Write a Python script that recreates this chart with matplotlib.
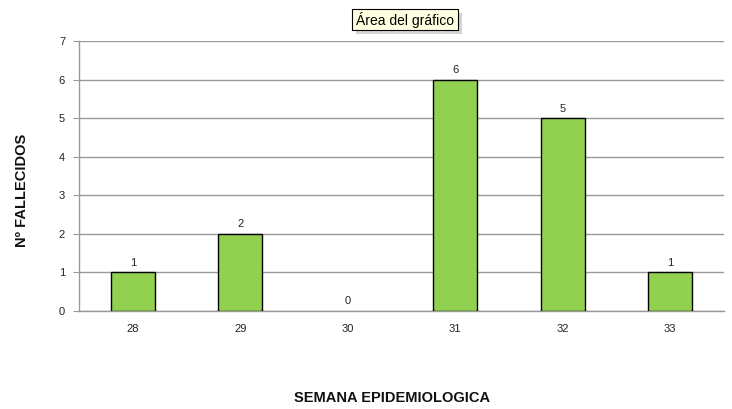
import matplotlib
matplotlib.use("Agg")
import matplotlib.pyplot as plt
from matplotlib.patches import Rectangle

semanas = ["28", "29", "30", "31", "32", "33"]
fallecidos = [1, 2, 0, 6, 5, 1]
yticks = [0, 1, 2, 3, 4, 5, 6, 7]

plt.rcParams['font.family'] = ['Liberation Sans', 'DejaVu Sans']

W, H = 732, 409
fig = plt.figure(figsize=(W/100, H/100), dpi=100)
ax = fig.add_axes([79/W, 1-311/H, (724-79)/W, (311-41)/H])

x = list(range(len(semanas)))
lws = [1.0 if v > 0 else 0.0 for v in fallecidos]
ax.bar(x, fallecidos, width=0.41, color="#92D050", edgecolor="black", linewidth=lws, zorder=3)
for xi, v in zip(x, fallecidos):
    ax.text(xi, v + 0.12, str(v), ha="center", va="bottom", fontsize=8, color="#222222")

ax.set_xlim(-0.5, len(semanas) - 0.5)
ax.set_ylim(0, 7)
ax.set_yticks(yticks)
ax.set_xticks(x)
ax.set_xticklabels(semanas)
ax.yaxis.grid(True, color="#999999", linewidth=1.0, zorder=0)
ax.set_axisbelow(True)
for s in ["top", "right"]:
    ax.spines[s].set_visible(False)
ax.spines["bottom"].set_color("#999999")
ax.spines["left"].set_color("#999999")
ax.spines["bottom"].set_linewidth(1.0)
ax.spines["left"].set_linewidth(1.0)
ax.tick_params(axis="x", length=0, pad=9, labelsize=8, colors="#222222")
ax.tick_params(axis="y", length=4, color="#999999", pad=6, labelsize=8, labelcolor="#222222")

fig.text(392/W, 1-398/H, "SEMANA EPIDEMIOLOGICA", ha="center", va="center",
         fontsize=10.5, fontweight="bold", color="#111111")
fig.text(22/W, 1-190/H, "Nº FALLECIDOS", ha="center", va="center", rotation=90,
         fontsize=10.5, fontweight="bold", color="#111111")

# tooltip box with shadow
bx0, by0, bx1, by1 = 352, 9, 458, 30
fig.patches.append(Rectangle(((bx0+4)/W, 1-(by1+4)/H), (bx1-bx0)/W, (by1-by0)/H,
                             transform=fig.transFigure, facecolor="#aaaaaa", alpha=0.5,
                             edgecolor="none", zorder=5))
fig.patches.append(Rectangle((bx0/W, 1-by1/H), (bx1-bx0)/W, (by1-by0)/H,
                             transform=fig.transFigure, facecolor="#FFFFE1",
                             edgecolor="black", linewidth=0.8, zorder=6))
fig.text((bx0+bx1)/2/W, 1-(by0+by1)/2/H, "Área del gráfico", ha="center", va="center",
         fontsize=10, color="black", zorder=7)

fig.savefig("out.png", dpi=100)
